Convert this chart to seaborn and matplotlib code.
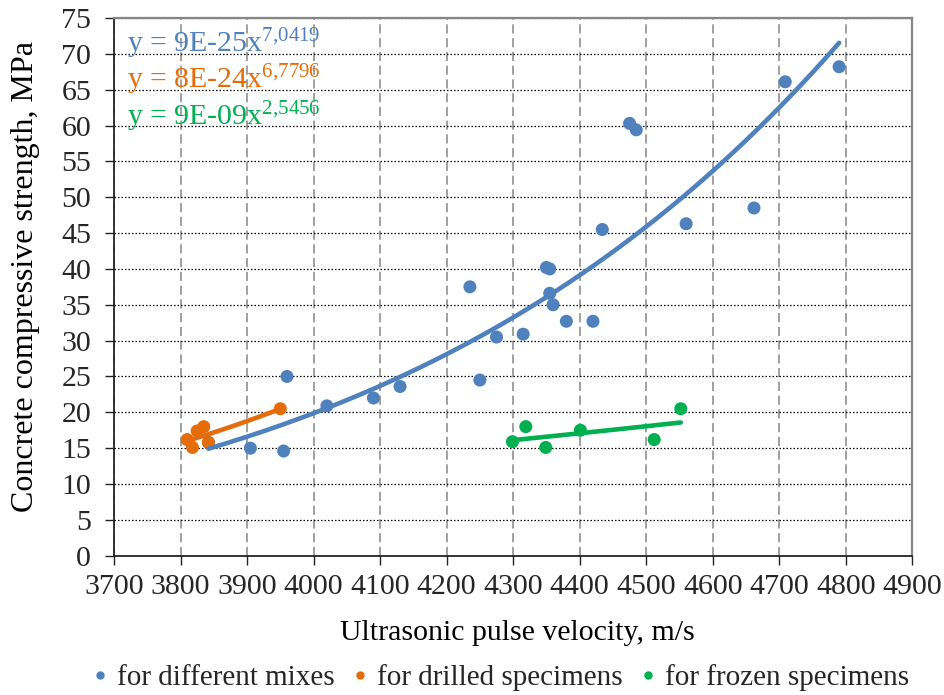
import numpy as np
import pandas as pd
import seaborn as sns
import matplotlib.pyplot as plt
from matplotlib.lines import Line2D

# ---- data ----
mix_v = [3842, 3905, 3955, 3960, 4020, 4090, 4130, 4235, 4250, 4275, 4315, 4350, 4355,
         4355, 4360, 4380, 4420, 4434, 4475, 4485, 4560, 4662, 4709, 4790]
mix_s = [15.8, 15.0, 14.6, 25.0, 20.9, 22.0, 23.6, 37.5, 24.5, 30.5, 30.9, 40.2, 40.0,
         36.6, 35.0, 32.7, 32.7, 45.5, 60.3, 59.4, 46.3, 48.5, 66.1, 68.2]
drill_v = [3810, 3818, 3825, 3835, 3842, 3950]
drill_s = [16.2, 15.1, 17.4, 18.0, 15.8, 20.5]
froz_v = [4299, 4319, 4349, 4401, 4512, 4552]
froz_s = [15.9, 18.0, 15.1, 17.5, 16.2, 20.5]

labels = ["for different mixes", "for drilled specimens", "for frozen specimens"]
equations = ["9E-25x", "8E-24x", "9E-09x"]
exponents = ["7{,}0419", "6{,}7796", "2{,}5456"]
colors = ["#4F81BD", "#E46C0A", "#00B050"]
xticks = list(range(3700, 4901, 100))
yticks = list(range(0, 76, 5))

sns.set_theme(style="white")
plt.rcParams['font.family'] = ['Liberation Serif', 'DejaVu Serif']
plt.rcParams['mathtext.fontset'] = 'custom'
plt.rcParams['mathtext.rm'] = 'Liberation Serif'
plt.rcParams['mathtext.it'] = 'Liberation Serif:italic'

df = pd.concat([
    pd.DataFrame({"v": mix_v, "s": mix_s, "g": labels[0]}),
    pd.DataFrame({"v": drill_v, "s": drill_s, "g": labels[1]}),
    pd.DataFrame({"v": froz_v, "s": froz_s, "g": labels[2]}),
], ignore_index=True)

fig = plt.figure(figsize=(9.44, 6.95), dpi=100)
ax = fig.add_axes([114 / 944, 1 - 555.7 / 695, (912.3 - 114) / 944, (555.7 - 18) / 695])

sns.scatterplot(data=df, x="v", y="s", hue="g", palette=dict(zip(labels, colors)),
                s=88, edgecolor="none", linewidth=0, legend=False, ax=ax, zorder=3)

# power-law trendlines (least squares in log-log space)
for lab, col in zip(labels, colors):
    sub = df[df.g == lab]
    b, a = np.polyfit(np.log(sub.v), np.log(sub.s), 1)
    xs = np.linspace(sub.v.min(), sub.v.max(), 200)
    sns.lineplot(x=xs, y=np.exp(a) * xs ** b, color=col, linewidth=3.3, ax=ax, zorder=4)

ax.set_xlim(3700, 4900)
ax.set_ylim(0, 75)
ax.set_xticks(xticks)
ax.set_yticks(yticks)
ax.set_xlabel("")
ax.set_ylabel("")

ax.xaxis.grid(True, color="#868686", linestyle=(0, (6, 3)), linewidth=1.1)
ax.yaxis.grid(True, color="black", linestyle=(0, (1.2, 1.6)), linewidth=0.9)
ax.set_axisbelow(True)

for sp in ["left", "bottom"]:
    ax.spines[sp].set_color("#222222")
    ax.spines[sp].set_linewidth(1.3)
for sp in ["top", "right"]:
    ax.spines[sp].set_color("#868686")
    ax.spines[sp].set_linewidth(1.6)

ax.tick_params(axis="both", which="both", direction="out", length=6.5, width=1,
               color="#222222", labelsize=21.5, bottom=True, left=True, top=False, right=False)
ax.tick_params(axis="x", pad=7)
ax.tick_params(axis="y", pad=10)

# trendline equations
for i, (eq, ex, col) in enumerate(zip(equations, exponents, colors)):
    fig.text(127 / 944, 1 - (52 + 36.5 * i) / 695, f"y = {eq}$^{{\\mathrm{{{ex}}}}}$",
             color=col, fontsize=21.5, ha="left", va="baseline")

fig.text(517 / 944, 1 - 633 / 695, "Ultrasonic pulse velocity, m/s", fontsize=21.5,
         ha="center", va="center", color="black")
fig.text(26 / 944, 1 - 276 / 695, "Concrete compressive strength, MPa", fontsize=23,
         ha="center", va="center", rotation=90, color="black")

handles = [Line2D([], [], marker="o", linestyle="none", color=c, markersize=5) for c in colors]
fig.legend(handles, labels, loc="center", bbox_to_anchor=(501 / 944, 1 - 678 / 695), ncol=3,
           frameon=False, fontsize=21, handlelength=0.5, handletextpad=0.35,
           columnspacing=0.6, borderaxespad=0)

fig.savefig("out.png", dpi=100)
